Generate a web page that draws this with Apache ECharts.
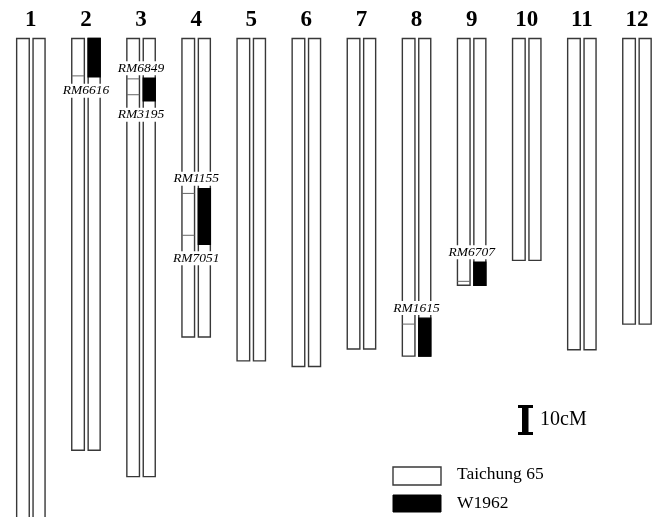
<!DOCTYPE html>
<html>
<head>
<meta charset="utf-8">
<script src="https://cdn.jsdelivr.net/npm/echarts@6/dist/echarts.min.js"></script>
<style>
  html, body { margin: 0; padding: 0; background: #fff; }
  #chart { width: 660px; height: 517px; }
</style>
</head>
<body>
<div id="chart"></div>
<script>
// chromosome names and lengths in cM (chr 1 runs past the bottom of the figure)
var chromosomes = ['1', '2', '3', '4', '5', '6', '7', '8', '9', '10', '11', '12'];
var chromLength = [162, 137.7, 146.5, 99.8, 107.8, 109.7, 103.8, 106.2, 82.5, 74.2, 104.1, 95.5];

// W1962 introgressed segments (right bar)
var segChrom = [2, 3, 4, 8, 9];
var segStart = [0, 13.3, 50.2, 93.5, 74.8];
var segEnd = [12.8, 20.8, 68.8, 106.2, 82.5];
var segTopMarker = ['', 'RM6849', 'RM1155', 'RM1615', 'RM6707'];
var segBottomMarker = ['RM6616', 'RM3195', 'RM7051', '', ''];

// marker ticks drawn on the Taichung 65 bar (left bar)
var tickChrom = [2, 3, 3, 4, 4, 8, 9];
var tickPos = [12.5, 13.5, 18.8, 51.8, 65.8, 95.5, 81.2];

var legendNames = ['Taichung 65', 'W1962'];
var scaleLabel = '10cM';

var chartDom = document.getElementById('chart');
var myChart = echarts.init(chartDom, null, { renderer: 'canvas' });

var STROKE = '#383838';
var SERIF = '"Liberation Serif", "DejaVu Serif", serif';

function leftBar(c) { return { x: c - 14.2, w: 12.6 }; }
function rightBar(c) { return { x: c + 2.2, w: 12 }; }

var option = {
  animation: false,
  backgroundColor: '#fff',
  grid: { left: 0, top: 38.5, width: 660, height: 480 },
  xAxis: { type: 'value', min: 0.44011, max: 12.4183, show: false },
  yAxis: { type: 'value', inverse: true, min: 0, max: 160, show: false },
  series: [
    {
      // paired chromosome bars with their number on top
      type: 'custom',
      clip: false,
      data: chromosomes.map(function (name, i) { return [i + 1, chromLength[i]]; }),
      renderItem: function (params, api) {
        var top = api.coord([api.value(0), 0]);
        var bot = api.coord([api.value(0), api.value(1)]);
        var c = top[0];
        var l = leftBar(c), r = rightBar(c);
        return {
          type: 'group',
          children: [
            { type: 'rect', shape: { x: l.x, y: top[1], width: l.w, height: bot[1] - top[1] },
              style: { fill: '#fff', stroke: STROKE, lineWidth: 1.4 } },
            { type: 'rect', shape: { x: r.x, y: top[1], width: r.w, height: bot[1] - top[1] },
              style: { fill: '#fff', stroke: STROKE, lineWidth: 1.4 } },
            { type: 'text',
              style: { text: chromosomes[params.dataIndex], x: c, y: top[1] - 18.5,
                align: 'center', verticalAlign: 'middle',
                font: 'bold 23px ' + SERIF, fill: '#000' } }
          ]
        };
      }
    },
    {
      // black W1962 segments
      type: 'custom',
      clip: false,
      data: segChrom.map(function (c, k) { return [c, segStart[k], segEnd[k]]; }),
      renderItem: function (params, api) {
        var a = api.coord([api.value(0), api.value(1)]);
        var b = api.coord([api.value(0), api.value(2)]);
        var r = rightBar(a[0]);
        return { type: 'rect', shape: { x: r.x, y: a[1], width: r.w, height: b[1] - a[1] },
          style: { fill: '#000', stroke: '#000', lineWidth: 1.4 } };
      }
    },
    {
      // marker ticks on the left bar
      type: 'custom',
      clip: false,
      data: tickChrom.map(function (c, k) { return [c, tickPos[k]]; }),
      renderItem: function (params, api) {
        var p = api.coord([api.value(0), api.value(1)]);
        var l = leftBar(p[0]);
        return { type: 'line', shape: { x1: l.x, y1: p[1], x2: l.x + l.w, y2: p[1] },
          style: { stroke: '#666', lineWidth: 1 } };
      }
    },
    {
      // marker names above / below each segment
      type: 'custom',
      clip: false,
      z: 5,
      data: segChrom.map(function (c, k) { return [c, segStart[k], segEnd[k]]; }),
      renderItem: function (params, api) {
        var a = api.coord([api.value(0), api.value(1)]);
        var b = api.coord([api.value(0), api.value(2)]);
        var k = params.dataIndex;
        var kids = [];
        var font = 'italic 13.5px ' + SERIF;
        if (segTopMarker[k]) {
          kids.push({ type: 'text', style: { text: segTopMarker[k], x: a[0], y: a[1] - 10,
            align: 'center', verticalAlign: 'middle', font: font, fill: '#000',
            backgroundColor: '#fff', padding: [0, 1] } });
        }
        if (segBottomMarker[k]) {
          kids.push({ type: 'text', style: { text: segBottomMarker[k], x: b[0], y: b[1] + 14,
            align: 'center', verticalAlign: 'middle', font: font, fill: '#000',
            backgroundColor: '#fff', padding: [0, 1] } });
        }
        return { type: 'group', children: kids };
      }
    }
  ],
  graphic: [
    // 10 cM scale bar
    { type: 'rect', shape: { x: 518, y: 405, width: 15, height: 3 }, style: { fill: '#000' } },
    { type: 'rect', shape: { x: 522, y: 405, width: 6.5, height: 30 }, style: { fill: '#000' } },
    { type: 'rect', shape: { x: 518, y: 432, width: 15, height: 3 }, style: { fill: '#000' } },
    { type: 'text', left: 540, top: 410,
      style: { text: scaleLabel, font: '20px ' + SERIF, fill: '#000' } },
    // legend
    { type: 'rect', shape: { x: 393, y: 467, width: 48, height: 18 },
      style: { fill: '#fff', stroke: STROKE, lineWidth: 1.4 } },
    { type: 'rect', shape: { x: 393, y: 495, width: 48, height: 17 },
      style: { fill: '#000', stroke: '#000', lineWidth: 1 } },
    { type: 'text', left: 457, top: 465,
      style: { text: legendNames[0], font: '17.5px ' + SERIF, fill: '#000' } },
    { type: 'text', left: 457, top: 494,
      style: { text: legendNames[1], font: '17.5px ' + SERIF, fill: '#000' } }
  ]
};

option && myChart.setOption(option);
</script>
</body>
</html>
